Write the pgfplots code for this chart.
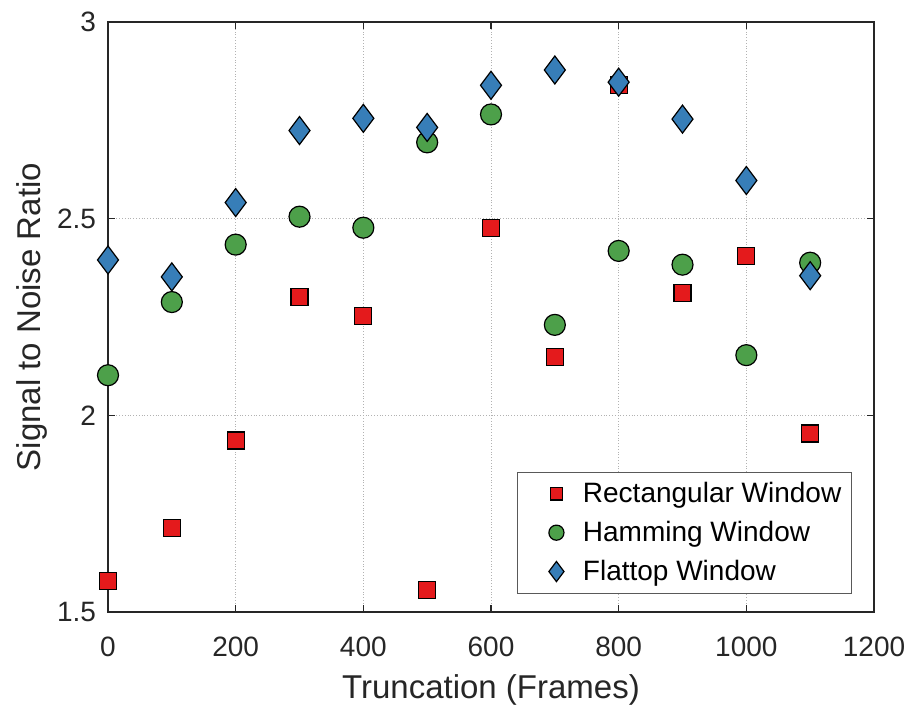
\documentclass[border=0pt]{standalone}
\usepackage{pgfplots}
\pgfplotsset{compat=1.18}
\usepackage{fontspec}
\setmainfont{Liberation Sans}
\usetikzlibrary{calc}

\definecolor{rectred}{HTML}{E41A1C}
\definecolor{hamgreen}{HTML}{4DA04A}
\definecolor{flatblue}{HTML}{377EB8}
\definecolor{axdark}{HTML}{262626}

\pgfplotstableread{
x    snr
0    1.579
100  1.714
200  1.936
300  2.301
400  2.253
500  1.556
600  2.477
700  2.148
800  2.839
900  2.311
1000 2.406
1100 1.954
}\rectdata

\pgfplotstableread{
x    snr
0    2.102
100  2.288
200  2.434
300  2.505
400  2.477
500  2.694
600  2.765
700  2.230
800  2.418
900  2.383
1000 2.153
1100 2.388
}\hamdata

\pgfplotstableread{
x    snr
0    2.395
100  2.352
200  2.541
300  2.724
400  2.755
500  2.732
600  2.839
700  2.878
800  2.847
900  2.753
1000 2.597
1100 2.355
}\flatdata

\begin{document}
\begin{tikzpicture}
\begin{axis}[
  scale only axis,
  width=383pt, height=295pt,
  xmin=0, xmax=1200, ymin=1.5, ymax=3,
  xtick={0,200,...,1200},
  ytick={1.5,2,2.5,3},
  yticklabels={1.5,2,2.5,3},
  xticklabel style={/pgf/number format/1000 sep={}},
  /pgf/number format/assume math mode=true,
  tick align=inside,
  major tick length=3.5pt,
  tick style={axdark, line width=0.6pt},
  axis line style={axdark, line width=0.8pt},
  grid=major,
  major grid style={densely dotted, gray!60, line width=0.4pt},
  ticklabel style={font=\fontsize{14}{16}\selectfont, text=axdark},
  xticklabel style={yshift=-9pt},
  yticklabel style={xshift=-2.5pt},
  label style={font=\fontsize{16.5}{19}\selectfont, text=axdark},
  xlabel={Truncation (Frames)},
  ylabel={Signal to Noise Ratio},
  xlabel style={yshift=-2pt},
  ylabel style={yshift=-2pt},
  clip=false,
  legend style={
    at={(rel axis cs:0.971,0.031)}, anchor=south east,
    draw=gray!70!black, line width=0.5pt,
    font=\fontsize{14}{16}\selectfont,
    inner xsep=3pt, inner ysep=3pt,
    row sep=3.8pt,
    legend cell align=left,
  },
  legend image code/.code={%
    \path (-16pt,0pt) (11pt,0pt);
    \draw[#1] plot coordinates {(0pt,0pt)};},
  legend image post style={every mark/.append style={scale=0.72}},
]
\addplot[only marks, mark=square*, mark size=4.25pt,
  mark options={fill=rectred, draw=black, line width=0.6pt}]
  table[x=x, y=snr] {\rectdata};
\addlegendentry{Rectangular Window}
\addplot[only marks, mark=*, mark size=5.25pt,
  mark options={fill=hamgreen, draw=black, line width=0.6pt}]
  table[x=x, y=snr] {\hamdata};
\addlegendentry{Hamming Window}
\addplot[only marks, mark=diamond*, mark size=7pt,
  mark options={fill=flatblue, draw=black, line width=0.6pt}]
  table[x=x, y=snr] {\flatdata};
\addlegendentry{Flattop Window}
\coordinate (bl) at (rel axis cs:0,0);
\coordinate (tr) at (rel axis cs:1,1);
\end{axis}
\pgfresetboundingbox
\path ($(bl)+(-54pt,-47pt)$) rectangle ($(tr)+(17.5pt,11pt)$);
\end{tikzpicture}
\end{document}
